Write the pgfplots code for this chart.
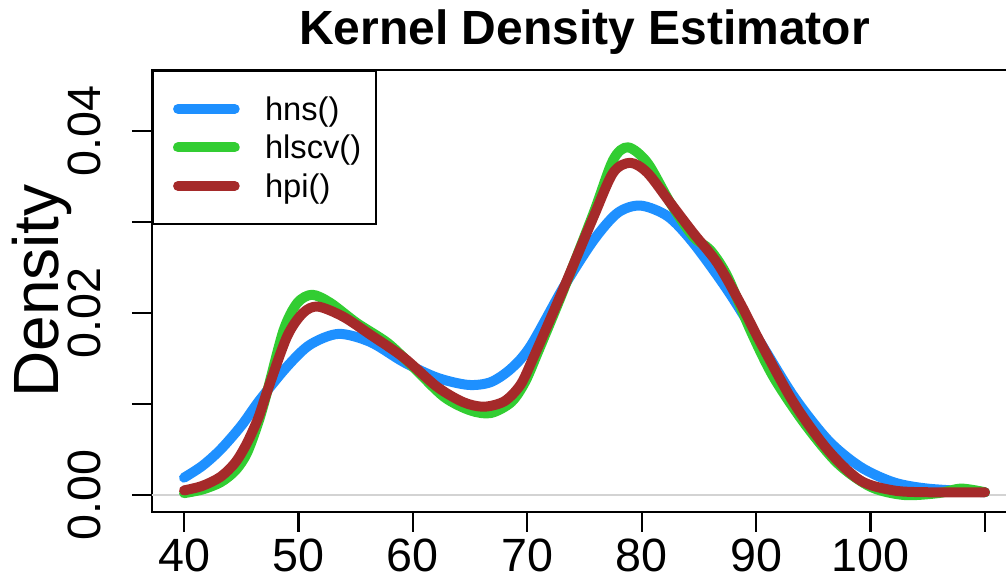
\documentclass[border=0pt]{standalone}
\usepackage{pgfplots}
\pgfplotsset{compat=1.18}
\usepackage{fontspec}
\setmainfont{Liberation Sans}
\definecolor{hnsblue}{RGB}{30,144,255}
\definecolor{hlscvgreen}{RGB}{50,205,50}
\definecolor{hpibrown}{RGB}{165,42,42}
\definecolor{zerogray}{RGB}{211,211,211}

\pgfplotstableread{
x y
40 0.0019
41.6 0.0032
43.2 0.0050
45.0 0.0076
46.6 0.0104
49.0 0.0141
51.0 0.0165
53.5 0.0177
56.3 0.0168
59.2 0.0146
62.1 0.0129
64.8 0.0121
66.8 0.0124
68.6 0.0139
70.3 0.0164
73.2 0.0229
75.8 0.0280
77.9 0.0310
79.9 0.0318
82.3 0.0306
84.5 0.0277
87.5 0.0225
90.4 0.0167
93.3 0.0108
96.3 0.0060
99.1 0.0031
102 0.0014
105 0.0007
110 0.0003
}\hns

\pgfplotstableread{
x y
40 0.0002
41.6 0.0006
43.2 0.0014
44.5 0.0027
45.5 0.0046
46.5 0.0080
47.3 0.0115
48.7 0.0181
49.9 0.0211
51.2 0.0220
52.8 0.0211
55.1 0.0189
57.8 0.0167
60.0 0.0141
62.7 0.0108
65.0 0.0093
66.8 0.0090
68.6 0.0102
69.8 0.0124
70.9 0.0156
73.0 0.0220
75.8 0.0310
77.5 0.0368
78.8 0.0382
80.5 0.0365
82.5 0.0321
84.5 0.0284
86.0 0.0269
87.5 0.0240
89.5 0.0181
91.5 0.0130
94.2 0.0079
97.1 0.0035
100 0.0009
102.9 0.0000
105.9 0.0002
107.9 0.0007
110 0.0003
}\hlscv

\pgfplotstableread{
x y
40 0.0005
41.6 0.0010
43.2 0.0020
44.5 0.0036
45.5 0.0057
46.5 0.0085
47.3 0.0115
49.0 0.0174
50.4 0.0200
51.7 0.0207
53.9 0.0196
56.3 0.0176
59.2 0.0151
62.1 0.0119
64.4 0.0102
66.2 0.0097
68.0 0.0103
69.4 0.0121
70.5 0.0150
73.0 0.0222
75.8 0.0306
77.5 0.0354
79.0 0.0365
80.5 0.0354
82.5 0.0321
84.5 0.0288
86.6 0.0255
88.6 0.0211
90.4 0.0167
93.3 0.0101
96.3 0.0049
99.1 0.0016
102 0.0005
105 0.0003
110 0.0003
}\hpi

\begin{document}
\begin{tikzpicture}
\useasboundingbox (-114pt,-54pt) rectangle (640.5pt,384pt);
\clip (-114pt,-54pt) rectangle (640.5pt,384pt);
\begin{axis}[
  at={(0,0)}, anchor=south west,
  scale only axis, width=648.75pt, height=331.5pt,
  xmin=37.2, xmax=112.8, ymin=-0.00187, ymax=0.0467,
  scaled y ticks=false,
  axis line style={line width=1.6pt},
  every tick/.style={black, line width=1.6pt},
  tick align=outside, major tick length=15pt,
  tick pos=left,
  xtick={40,50,60,70,80,90,100,110},
  xticklabels={40,50,60,70,80,90,100,{}},
  ytick={0,0.01,0.02,0.03,0.04},
  yticklabels={0.00,{},0.02,{},0.04},
  tick label style={font=\fontsize{35}{42}\selectfont},
  xticklabel style={yshift=-2pt},
  yticklabel style={xshift=-20pt, rotate=90, anchor=south},
  title={Kernel Density Estimator},
  title style={font=\fontsize{36}{43}\selectfont\bfseries, at={(axis description cs:0.5,1)}, anchor=base, yshift=13pt},
  ylabel={Density},
  ylabel style={font=\fontsize{48}{58}\selectfont, at={(axis description cs:-0.127,0.5)}, anchor=center},
  legend style={at={(axis description cs:0,1)}, anchor=north west, draw=black, line width=1.6pt, fill=white,
    font=\fontsize{24.5}{29}\selectfont, inner xsep=11.25pt, inner ysep=17.35pt, row sep=6.9pt,
    nodes={inner sep=0pt, text height=19.4pt, text depth=2.6pt}},
  legend cell align=left,
  legend image code/.code={\path (0pt,0pt) (65.25pt,0pt); \draw[#1] (3.75pt,0pt) -- (46.25pt,0pt);},
]
\addplot[zerogray, line width=1.2pt, forget plot] coordinates {(37.2,0) (112.8,0)};
\addplot[hnsblue, line width=7.5pt, line cap=round, line join=round, smooth] table[x=x,y=y] {\hns};
\addlegendentry{hns()}
\addplot[hlscvgreen, line width=7.5pt, line cap=round, line join=round, smooth] table[x=x,y=y] {\hlscv};
\addlegendentry{hlscv()}
\addplot[hpibrown, line width=7.5pt, line cap=round, line join=round, smooth] table[x=x,y=y] {\hpi};
\addlegendentry{hpi()}
\end{axis}
\end{tikzpicture}
\end{document}
